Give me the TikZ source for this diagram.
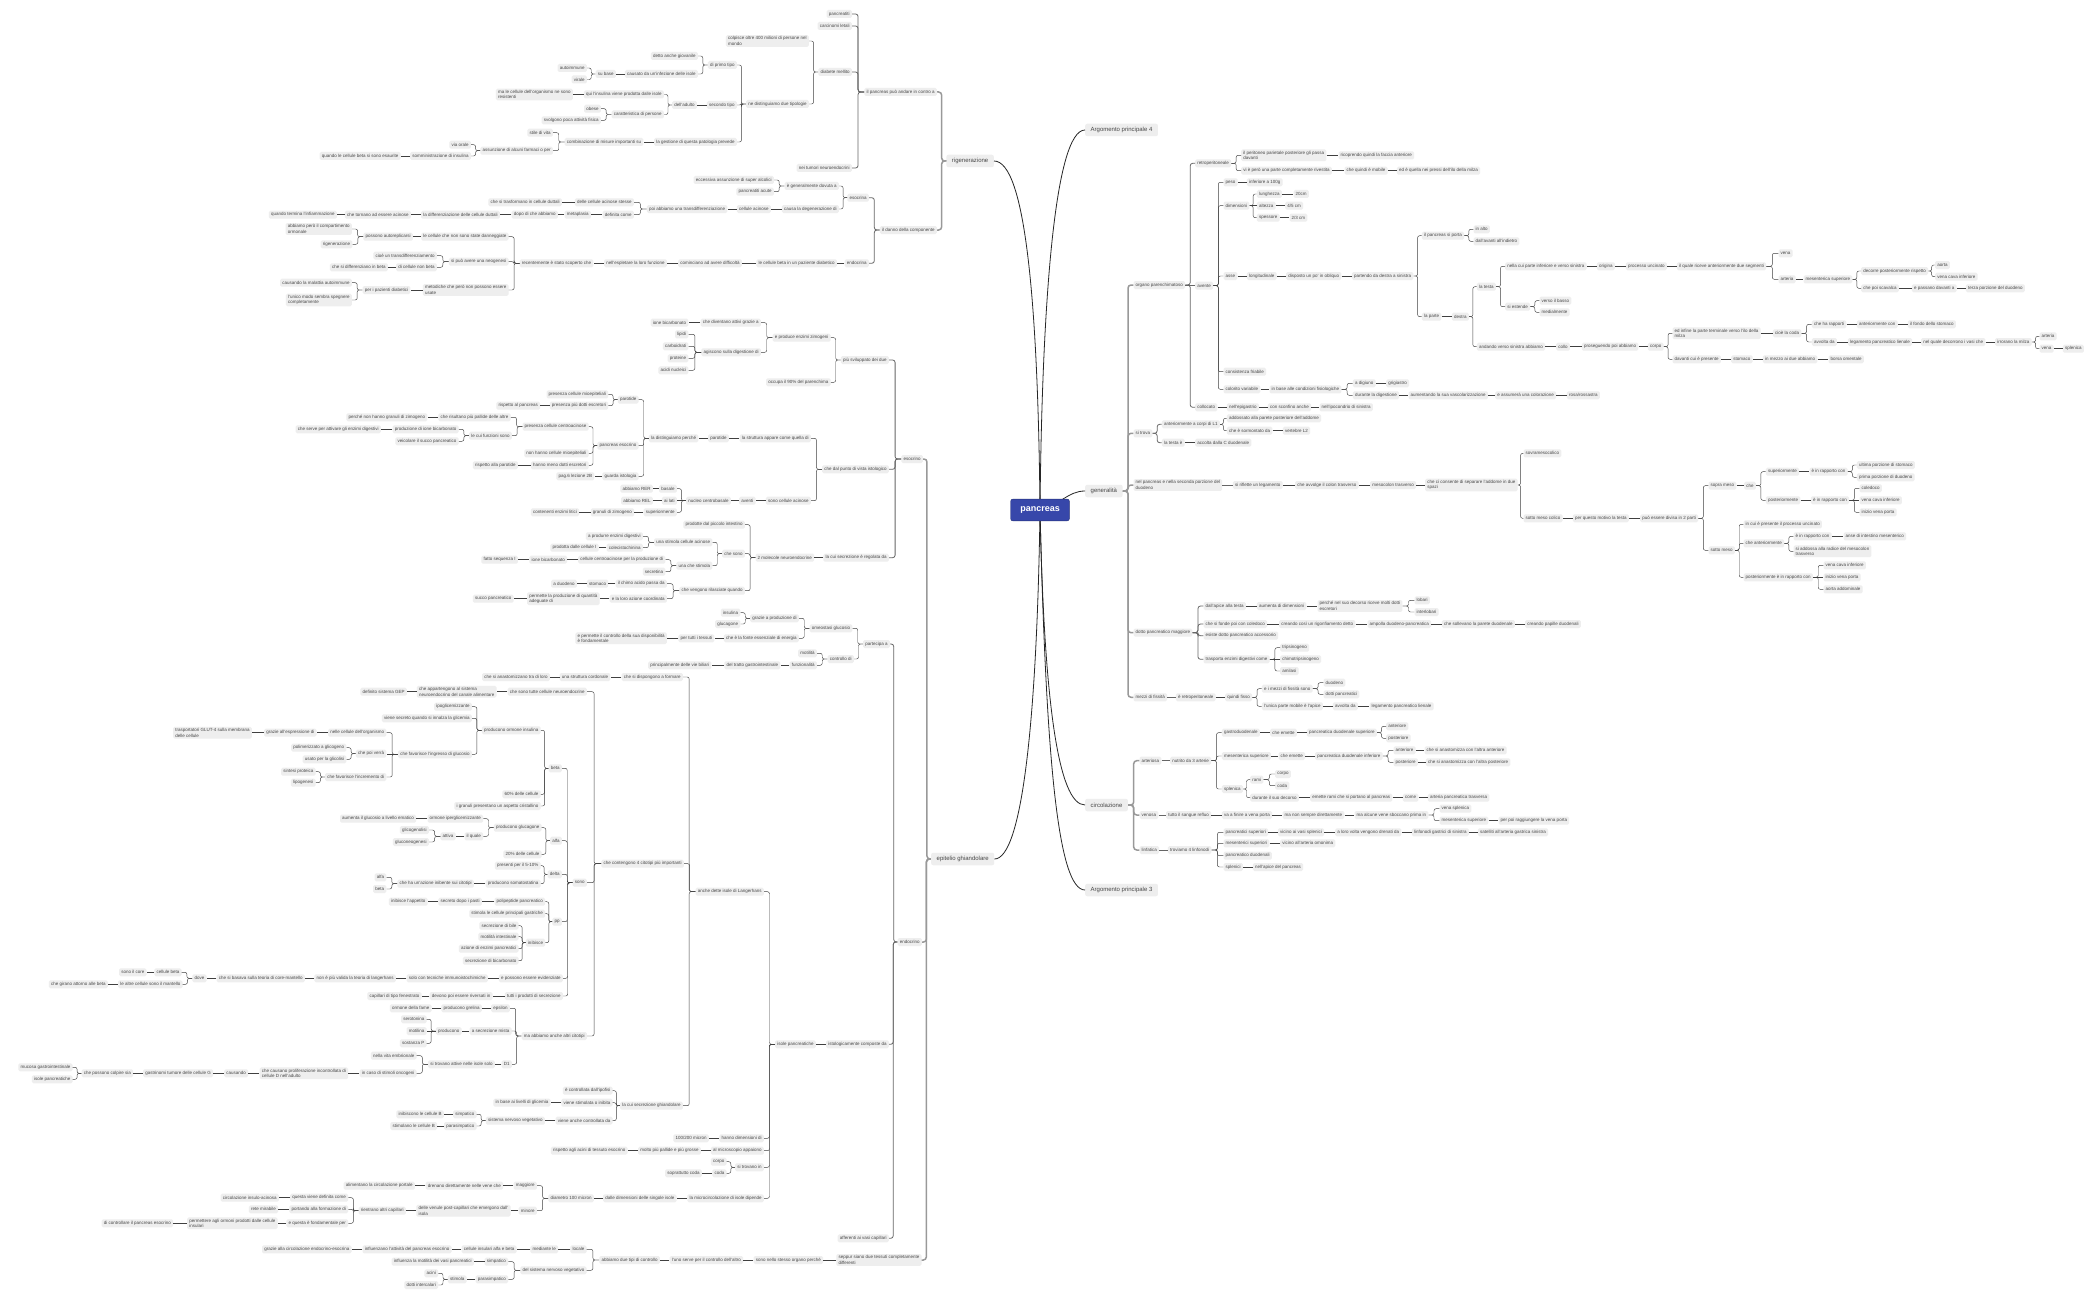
\documentclass[tikz,border=0pt]{standalone}
\usepackage{fontspec}
\setmainfont{Liberation Sans}
\usetikzlibrary{calc, positioning}
\definecolor{PanBlue}{RGB}{55,71,170}
\definecolor{LeafGrey}{RGB}{238,238,238}
\definecolor{InkGrey}{RGB}{70,70,70}
% child node on the left / right of its parent, with its connector
% (straight when both sit on one line, elbow otherwise)
\newcommand\kidL[6][wire]{\node[leaf, anchor=east] (#2) at (#4,#5) {#6};
  \expandafter\def\csname ky@#2\endcsname{#5}%
  \ifcsname ky@#3\endcsname\pgfmathtruncatemacro\flatlink{abs(\csname ky@#3\endcsname-#5)<1}\else\def\flatlink{0}\fi
  \ifnum\flatlink=1 \draw[#1] (#3.west) -- (#2.east |- #3.west);\else\draw[#1] (#3.west) to[elbow] (#2.east);\fi}
\newcommand\kidR[6][wire]{\node[leaf, anchor=west] (#2) at (#4,#5) {#6};
  \expandafter\def\csname ky@#2\endcsname{#5}%
  \ifcsname ky@#3\endcsname\pgfmathtruncatemacro\flatlink{abs(\csname ky@#3\endcsname-#5)<1}\else\def\flatlink{0}\fi
  \ifnum\flatlink=1 \draw[#1] (#3.east) -- (#2.west |- #3.east);\else\draw[#1] (#3.east) to[elbow] (#2.west);\fi}

\begin{document}
\begin{tikzpicture}[x=1pt, y=-1pt,
    leaf/.style={rectangle, fill=LeafGrey, rounded corners=1.5pt, inner xsep=2.2pt, inner ysep=1.5pt, minimum height=8pt, align=left, font=\fontsize{4.5}{5.4}\selectfont, text=InkGrey},
    topic/.style={rectangle, fill=LeafGrey, rounded corners=2pt, inner xsep=5.5pt, minimum height=12.5pt, font=\fontsize{6}{7}\selectfont, text=InkGrey},
    hub/.style={rectangle, draw=PanBlue!70!black, fill=PanBlue, rounded corners=2pt, minimum width=58.6pt, minimum height=21.7pt, font=\fontsize{9}{10}\selectfont\bfseries, text=white},
    wire/.style={draw=black!75, line width=0.45pt, rounded corners=2pt},
    wire2/.style={draw=black!60, line width=0.8pt, rounded corners=2.5pt},
    wire1/.style={draw=black!40, line width=1.5pt, rounded corners=3pt},
    mainwire/.style={draw=black!85, line width=0.8pt},
    elbow/.style={to path={(\tikztostart) -- ($(\tikztostart)!0.5!(\tikztotarget |- \tikztostart)$) |- (\tikztotarget)}}
  ]
  \fill[white] (0,0) rectangle (2100,1300);
  \useasboundingbox (0,0) rectangle (2100,1300);

  % main topics
  \node[topic, anchor=east] (rig) at (994,161) {rigenerazione};
  \node[topic, anchor=east] (epi) at (994.4,859) {epitelio ghiandolare};
  \node[topic, anchor=west] (arg4) at (1085,130) {Argomento principale 4};
  \node[topic, anchor=west] (gen) at (1085,491) {generalità};
  \node[topic, anchor=west] (circ) at (1085,805) {circolazione};
  \node[topic, anchor=west] (arg3) at (1085,890) {Argomento principale 3};

  \coordinate (pc) at (1040,510);
  \draw[mainwire] (pc) .. controls (1038,300) and (1025,161) .. (rig.east);
  \draw[mainwire] (pc) .. controls (1037,720) and (1022,859) .. (epi.east);
  \draw[mainwire] (pc) .. controls (1042,300) and (1055,130) .. (arg4.west);
  \draw[mainwire] (pc) .. controls (1060,505) and (1068,491) .. (gen.west);
  \draw[mainwire] (pc) .. controls (1044,700) and (1058,805) .. (circ.west);
  \draw[mainwire] (pc) .. controls (1046,760) and (1058,890) .. (arg3.west);
  \node[hub] (pan) at (pc) {pancreas};

  % rigenerazione
  \kidL[wire1]{R1}{rig}{937}{92}{il pancreas può andare in contro a}
  \kidL[wire1]{R2}{rig}{937}{230}{il danno della componente}
  \kidL[wire2]{R3}{R1}{852}{14}{pancreatiti}
  \kidL[wire2]{R4}{R1}{852}{26}{carcinomi letali}
  \kidL[wire2]{R5}{R1}{852}{72}{diabete mellito}
  \kidL[wire2]{R6}{R1}{852}{168}{nei tumori neuroendocrini}
  \kidL{R7}{R5}{809}{41}{colpisce oltre 400 milioni di persone nel\\mondo}
  \kidL{R8}{R5}{809}{104}{ne distinguiamo due tipologie}
  \kidL{R9}{R8}{737}{65}{di primo tipo}
  \kidL{R10}{R8}{737}{105}{secondo tipo}
  \kidL{R11}{R8}{737}{142}{la gestione di questa patologia prevede}
  \kidL{R12}{R9}{698}{56}{detto anche giovanile}
  \kidL{R13}{R9}{698}{74}{causato da un'infezione delle isole}
  \kidL{R14}{R13}{616}{74}{su base}
  \kidL{R15}{R14}{587}{68}{autoimmune}
  \kidL{R16}{R14}{587}{79.5}{virale}
  \kidL{R17}{R10}{697}{105}{dell'adulto}
  \kidL{R18}{R17}{664}{94.5}{qui l'insulina viene prodotta dalle isole}
  \kidL{R19}{R17}{664}{114.5}{caratteristica di persone}
  \kidL{R20}{R18}{573}{94.5}{ma le cellule dell'organismo ne sono\\resistenti}
  \kidL{R21}{R19}{601}{108.7}{obese}
  \kidL{R22}{R19}{601}{120.3}{svolgono poca attività fisica}
  \kidL{R23}{R11}{643.6}{142}{combinazione di misure importanti su}
  \kidL{R24}{R23}{553}{132.7}{stile di vita}
  \kidL{R25}{R23}{553}{150.7}{assunzione di alcuni farmaci o per}
  \kidL{R26}{R25}{471}{144.7}{via orale}
  \kidL{R27}{R25}{471}{156}{somministrazione di insulina}
  \kidL{R28}{R27}{400.7}{156}{quando le cellule beta si sono esaurite}
  \kidL[wire2]{R29}{R2}{869}{197.7}{esocrina}
  \kidL[wire2]{R30}{R2}{869}{263.3}{endocrina}
  \kidL{R31}{R29}{839}{186}{è generalmente dovuta a}
  \kidL{R32}{R29}{839}{209}{causa la degenerazione di}
  \kidL{R33}{R31}{774}{180}{eccessiva assunzione di super alcolici}
  \kidL{R34}{R31}{774}{191.7}{pancreatiti acute}
  \kidL{R35}{R32}{771}{209}{cellule acinose}
  \kidL{R36}{R35}{727.5}{209}{poi abbiamo una transdifferenziazione}
  \kidL{R37}{R36}{634}{202.3}{delle cellule acinose stesse}
  \kidL{R38}{R36}{634}{214.7}{definita come}
  \kidL{R39}{R37}{562}{202.3}{che si trasformano in cellule duttali}
  \kidL{R40}{R38}{591}{214.7}{metaplasia}
  \kidL{R41}{R40}{558}{214.7}{dopo di che abbiamo}
  \kidL{R42}{R41}{500}{214.7}{la differenziazione delle cellule duttali}
  \kidL{R43}{R42}{411}{214.7}{che tornano ad essere acinose}
  \kidL{R44}{R43}{337}{214.7}{quando termina l'infiammazione}
  \kidL{R45}{R30}{837}{263.3}{le cellule beta in un paziente diabetico}
  \kidL{R46}{R45}{742}{263.3}{cominciano ad avere difficoltà}
  \kidL{R47}{R46}{667}{263.3}{nell'espletare la loro funzione}
  \kidL{R48}{R47}{593.6}{263.3}{recentemente è stato scoperto che}
  \kidL{R49}{R48}{508.7}{236.7}{le cellule che non sono state danneggiate}
  \kidL{R50}{R48}{508.7}{261.7}{si può avere una neogenesi}
  \kidL{R51}{R48}{508.7}{290}{metodiche che però non possono essere\\usate}
  \kidL{R52}{R49}{413}{236.7}{possono autoreplicarsi}
  \kidL{R53}{R52}{352}{229}{abbiamo però il compartimento\\ormonale}
  \kidL{R54}{R52}{352.5}{244.3}{rigenerazione}
  \kidL{R55}{R50}{437}{255.7}{cioè un transdifferenziamento}
  \kidL{R56}{R50}{437}{267.3}{di cellule non beta}
  \kidL{R57}{R56}{388}{267.3}{che si differenziano in beta}
  \kidL{R58}{R51}{410.5}{290}{per i pazienti diabetici}
  \kidL{R59}{R58}{352}{282.7}{causando la malattia autoimmune}
  \kidL{R60}{R58}{352}{300}{l'unico modo sembra spegnere\\completamente}

  % epitelio ghiandolare: esocrino
  \kidL[wire1]{E1}{epi}{923}{459}{esocrino}
  \kidL[wire1]{N1}{epi}{922}{942}{endocrino}
  \kidL[wire1]{S1}{epi}{921.7}{1260}{seppur siano due tessuti completamente\\differenti}
  \kidL[wire2]{E2}{E1}{889}{360}{più sviluppato dei due}
  \kidL[wire2]{E3}{E1}{889}{469.3}{che dal punto di vista istologico}
  \kidL[wire2]{E4}{E1}{889}{557.7}{la cui secrezione è regolata da}
  \kidL{E5}{E2}{830.8}{337.7}{e produce enzimi zimogeni}
  \kidL{E6}{E2}{830.8}{382.3}{occupa il 90\% del parenchima}
  \kidL{E7}{E5}{761}{322.7}{che diventano attivi grazie a}
  \kidL{E8}{E7}{688.6}{322.7}{ione bicarbonato}
  \kidL{E9}{E5}{761}{352.3}{agiscono sulla digestione di}
  \kidL{E10}{E9}{688.6}{334.3}{lipidi}
  \kidL{E11}{E9}{688.6}{346.3}{carboidrati}
  \kidL{E12}{E9}{688.6}{358.3}{proteine}
  \kidL{E13}{E9}{688.6}{370.3}{acidi nucleici}
  \kidL{E14}{E3}{811}{438.3}{la struttura appare come quella di}
  \kidL{E15}{E3}{811}{500.7}{sono cellule acinose}
  \kidL{E16}{E14}{729}{438.3}{parotide}
  \kidL{E17}{E16}{698.6}{438.3}{la distinguiamo perché}
  \kidL{E18}{E17}{638.7}{399.7}{parotide}
  \kidL{E19}{E17}{638.7}{445.7}{pancreas esocrino}
  \kidL{E20}{E17}{638.7}{476.3}{guarda istologia}
  \kidL{E21}{E18}{608.4}{394.3}{presenza cellule mioepiteliali}
  \kidL{E22}{E18}{608.4}{405.7}{presenza più dotti escretori}
  \kidL{E23}{E22}{540.3}{405.7}{rispetto al pancreas}
  \kidL{E24}{E19}{588.9}{426.7}{presenza cellule centroacinose}
  \kidL{E25}{E19}{588.9}{453.3}{non hanno cellule mioepiteliali}
  \kidL{E26}{E19}{588.9}{465.3}{hanno meno dotti escretori}
  \kidL{E27}{E26}{518}{465.3}{rispetto alla parotide}
  \kidL{E28}{E24}{510.8}{417.3}{che risultano più pallide delle altre}
  \kidL{E29}{E28}{427.5}{417.3}{perché non hanno granuli di zimogeno}
  \kidL{E30}{E24}{512}{435.7}{le cui funzioni sono}
  \kidL{E31}{E30}{458.8}{429.3}{produzione di ione bicarbonato}
  \kidL{E32}{E31}{381}{429.3}{che serve per attivare gli enzimi digestivi}
  \kidL{E33}{E30}{458.8}{441.3}{veicolare il succo pancreatico}
  \kidL{E34}{E20}{594.5}{476.3}{pag.6 lezione 2B}
  \kidL{E35}{E15}{755.8}{500.7}{aventi}
  \kidL{E36}{E35}{731}{500.7}{nucleo centrobasale}
  \kidL{E37}{E36}{677}{488.7}{basale}
  \kidL{E38}{E37}{653}{488.7}{abbiamo RER}
  \kidL{E39}{E36}{677}{500.7}{ai lati}
  \kidL{E40}{E39}{653}{500.7}{abbiamo REL}
  \kidL{E41}{E36}{677}{512.3}{superiormente}
  \kidL{E42}{E41}{634.4}{512.3}{granuli di zimogeno}
  \kidL{E43}{E42}{579.3}{512.3}{contenenti enzimi litici}
  \kidL{E44}{E4}{814.4}{557.7}{2 molecole neuroendocrine}
  \kidL{E45}{E44}{745}{524.7}{prodotte dal piccolo intestino}
  \kidL{E46}{E44}{745}{553.7}{che sono}
  \kidL{E47}{E44}{745}{590.7}{che vengono rilasciate quando}
  \kidL{E48}{E46}{712.5}{542.3}{una stimola cellule acinose}
  \kidL{E49}{E46}{712.5}{565.7}{una che stimola}
  \kidL{E50}{E48}{643}{536.3}{a produrre enzimi digestivi}
  \kidL{E51}{E48}{643}{547.7}{colecistochinina}
  \kidL{E52}{E51}{598.8}{547.7}{prodotta dalle cellule I}
  \kidL{E53}{E49}{665.6}{559.7}{cellule centroacinose per la produzione di}
  \kidL{E54}{E53}{567.2}{559.7}{ione bicarbonato}
  \kidL{E55}{E54}{518}{559.7}{fatto sequenza I}
  \kidL{E56}{E49}{665.6}{571.7}{secretina}
  \kidL{E57}{E47}{667}{583.7}{il chimo acido passa da}
  \kidL{E58}{E57}{608.4}{583.7}{stomaco}
  \kidL{E59}{E58}{577}{583.7}{a duodeno}
  \kidL{E60}{E47}{667}{598.7}{e la loro azione coordinata}
  \kidL{E61}{E60}{599.7}{598.7}{permette la produzione di quantità\\adeguate di}
  \kidL{E62}{E61}{513.8}{598.7}{succo pancreatico}

  % epitelio ghiandolare: endocrino
  \kidL[wire2]{N2}{N1}{890}{644}{partecipa a}
  \kidL[wire2]{N3}{N1}{889}{1044.3}{istologicamente composte da}
  \kidL[wire2]{N4}{N1}{889}{1238.3}{afferenti ai vasi capillari}
  \kidL{N5}{N2}{852.5}{628.3}{omeostasi glucosio}
  \kidL{N6}{N2}{854}{659}{controllo di}
  \kidL{N7}{N5}{799}{618.3}{grazie a produzione di}
  \kidL{N8}{N5}{799}{638.3}{che è la fonte essenziale di energia}
  \kidL{N9}{N7}{740.6}{612.7}{insulina}
  \kidL{N10}{N7}{740.6}{624}{glucagone}
  \kidL{N11}{N8}{714.6}{638.3}{per tutti i tessuti}
  \kidL{N12}{N11}{667}{638.3}{e permette il controllo della sua disponibilità\\è fondamentale}
  \kidL{N13}{N6}{817}{653.3}{motilità}
  \kidL{N14}{N6}{817}{665.3}{funzionalità}
  \kidL{N15}{N14}{780.5}{665.3}{del tratto gastrointestinale}
  \kidL{N16}{N15}{711.6}{665.3}{principalmente delle vie biliari}
  \kidL{N17}{N3}{816}{1044.3}{isole pancreatiche}
  \kidL{N18}{N17}{764}{891.7}{anche dette isole di Langerhans}
  \kidL{N19}{N17}{764}{1138.3}{hanno dimensioni di}
  \kidL{N20}{N17}{764}{1150.7}{al microscopio appaiono}
  \kidL{N21}{N17}{764}{1167.3}{si trovano in}
  \kidL{N22}{N17}{764}{1198.3}{la microcircolazione di isole dipende}
  \kidL{N23}{N19}{709}{1138.3}{100/200 micron}
  \kidL{N24}{N20}{701}{1150.7}{molto più pallide e più grosse}
  \kidL{N25}{N24}{627.7}{1150.7}{rispetto agli acini di tessuto esocrino}
  \kidL{N26}{N21}{726.7}{1161.7}{corpo}
  \kidL{N27}{N21}{726.7}{1173.3}{coda}
  \kidL{N28}{N27}{702}{1173.3}{soprattutto coda}
  \kidL{N29}{N22}{676.7}{1198.3}{dalle dimensioni delle singole isole}
  \kidL{N30}{N29}{594}{1198.3}{diametro 100 micron}
  \kidL{N31}{N30}{537}{1185.7}{maggiore}
  \kidL{N32}{N31}{503.3}{1185.7}{drenano direttamente nelle vene che}
  \kidL{N33}{N32}{415}{1185.7}{alimentano la circolazione portale}
  \kidL{N34}{N30}{537}{1210.7}{minore}
  \kidL{N35}{N34}{510.7}{1210.7}{delle venule post-capillari che emergono dall'\\isola}
  \kidL{N36}{N35}{406}{1210.7}{rientrano altri capillari}
  \kidL{N37}{N36}{348.3}{1197.7}{questa viene definita come}
  \kidL{N38}{N37}{279}{1197.7}{circolazione insulo-acinosa}
  \kidL{N39}{N36}{348.3}{1209.3}{portando alla formazione di}
  \kidL{N40}{N39}{278.3}{1209.3}{rete mirabile}
  \kidL{N41}{N36}{348.3}{1223.3}{e questa è fondamentale per}
  \kidL{N42}{N41}{277.7}{1223.3}{permettere agli ormoni prodotti dalle cellule\\insulari}
  \kidL{N43}{N42}{173.3}{1223.3}{di controllare il pancreas esocrino}
  \kidL{N44}{N18}{683}{677}{che si dispongono a formare}
  \kidL{N45}{N18}{684}{863.7}{che contengono 4 citotipi più importanti}
  \kidL{N46}{N18}{683}{1105.7}{la cui secrezione ghiandolare}
  \kidL{N47}{N44}{610.6}{677}{una struttura cordonale}
  \kidL{N48}{N47}{550}{677}{che si anastomizzano tra di loro}
  \kidL{N49}{N45}{587}{691.7}{che sono tutte cellule neuroendocrine}
  \kidL{N50}{N45}{587}{882.7}{sono}
  \kidL{N51}{N45}{587}{1036}{ma abbiamo anche altri citotipi}
  \kidL{N52}{N49}{496.7}{691.7}{che appartengono al sistema\\neuroendocrino del canale alimentare}
  \kidL{N53}{N52}{407}{691.7}{definito sistema GEP}
  \kidL{N54}{N50}{562}{768.3}{beta}
  \kidL{N55}{N50}{562}{840.7}{alfa}
  \kidL{N56}{N50}{562}{874.3}{delta}
  \kidL{N57}{N50}{562}{921.7}{pp}
  \kidL{N58}{N50}{563}{978.3}{e possono essere evidenziate}
  \kidL{N59}{N50}{563}{996}{tutti i prodotti di secrezione}
  \kidL{N60}{N54}{540.8}{730.3}{producono ormone insulina}
  \kidL{N61}{N54}{540.8}{794.3}{60\% delle cellule}
  \kidL{N62}{N54}{540.8}{806}{i granuli presentano un aspetto cristallino}
  \kidL{N63}{N60}{472}{706.7}{ipoglicemizzante}
  \kidL{N64}{N60}{472}{718.3}{viene secreto quando si innalza la glicemia}
  \kidL{N65}{N60}{472}{754.3}{che favorisce l'ingresso di glucosio}
  \kidL{N66}{N65}{386.5}{732.7}{nelle cellule dell'organismo}
  \kidL{N67}{N66}{316.7}{732.7}{grazie all'espressione di}
  \kidL{N67b}{N67}{252}{732.7}{trasportatori GLUT-4 sulla membrana\\delle cellule}
  \kidL{N68}{N65}{386.5}{753.7}{che poi verrà}
  \kidL{N69}{N65}{386.5}{777}{che favorisce l'incremento di}
  \kidL{N70}{N68}{346.6}{747.7}{polimerizzato a glicogeno}
  \kidL{N71}{N68}{346.6}{759.3}{usato per la glicolisi}
  \kidL{N72}{N69}{315.8}{771.7}{sintesi proteica}
  \kidL{N73}{N69}{315.8}{782.7}{lipogenesi}
  \kidL{N74}{N55}{541.7}{827.7}{producono glucagone}
  \kidL{N75}{N55}{541.7}{854.3}{20\% delle cellule}
  \kidL{N76}{N74}{483.4}{818.7}{ormone iperglicemizzante}
  \kidL{N77}{N76}{416.4}{818.7}{aumenta il glucosio a livello ematico}
  \kidL{N78}{N74}{483.4}{836.3}{il quale}
  \kidL{N79}{N78}{455.8}{836.3}{attiva}
  \kidL{N80}{N79}{429}{830}{glicogenolisi}
  \kidL{N81}{N79}{429}{842}{gluconeogenesi}
  \kidL{N82}{N56}{540.8}{865.7}{presenti per il 5-10\%}
  \kidL{N83}{N56}{540.8}{883.7}{producono somatostatina}
  \kidL{N84}{N83}{474}{883.7}{che ha un'azione inibente sui citotipi}
  \kidL{N85}{N84}{386.5}{877.3}{alfa}
  \kidL{N86}{N84}{386.5}{889}{beta}
  \kidL{N87}{N57}{545.4}{901.7}{polipeptide pancreatico}
  \kidL{N88}{N87}{482}{901.7}{secreto dopo i pasti}
  \kidL{N89}{N88}{427.8}{901.7}{inibisce l'appetito}
  \kidL{N90}{N57}{545.4}{913.7}{stimola le cellule principali gastriche}
  \kidL{N91}{N57}{545.4}{942.7}{inibisce}
  \kidL{N92}{N91}{518.7}{925.7}{secrezione di bile}
  \kidL{N93}{N91}{518.7}{936.7}{motilità intestinale}
  \kidL{N94}{N91}{518.7}{948.7}{azione di enzimi pancreatici}
  \kidL{N95}{N91}{518.7}{960.7}{secrezione di bicarbonato}
  \kidL{N96}{N58}{488}{978.3}{solo con tecniche immunoistochimiche}
  \kidL{N97}{N96}{396}{978.3}{non è più valida la teoria di langerhans}
  \kidL{N98}{N97}{305}{978.3}{che si basava sulla teoria di core-mantello}
  \kidL{N99}{N98}{206.7}{978.3}{dove}
  \kidL{N100}{N99}{181.7}{972.3}{cellule beta}
  \kidL{N101}{N100}{146.7}{972.3}{sono il core}
  \kidL{N102}{N99}{182.7}{984.3}{le altre cellule sono il mantello}
  \kidL{N103}{N102}{108}{984.3}{che girano attorno alle beta}
  \kidL{N104}{N59}{492.7}{996}{devono poi essere riversati in}
  \kidL{N105}{N104}{421.7}{996}{capillari di tipo fenestrato}
  \kidL{N106}{N51}{510}{1008.3}{epsilon}
  \kidL{N107}{N106}{482}{1008.3}{producono grelina}
  \kidL{N108}{N107}{431.7}{1008.3}{ormone della fame}
  \kidL{N109}{N51}{511.7}{1031}{a secrezione mista}
  \kidL{N110}{N109}{461.7}{1031}{producono}
  \kidL{N111}{N110}{426.7}{1019.3}{serotonina}
  \kidL{N112}{N110}{426.7}{1031}{motilina}
  \kidL{N113}{N110}{426.7}{1043.3}{sostanza P}
  \kidL{N114}{N51}{512}{1064.3}{D1}
  \kidL{N115}{N114}{495}{1064.3}{si trovano attive nelle isole solo}
  \kidL{N116}{N115}{416.7}{1055.7}{nella vita embrionale}
  \kidL{N117}{N115}{416.7}{1073.3}{in caso di stimoli oncogeni}
  \kidL{N118}{N117}{348.3}{1073.3}{che causano proliferazione incontrollata di\\cellule D nell'adulto}
  \kidL{N119}{N118}{248.3}{1073.3}{causando}
  \kidL{N120}{N119}{213.3}{1073.3}{gastrinomi tumore delle cellule G}
  \kidL{N121}{N120}{133.3}{1073.3}{che possono colpire sia}
  \kidL{N122}{N121}{72.7}{1067.3}{mucosa gastrointestinale}
  \kidL{N123}{N121}{72.7}{1079.3}{isole pancreatiche}
  \kidL{N124}{N46}{612.7}{1090.7}{è controllata dall'ipofisi}
  \kidL{N125}{N46}{612.7}{1102.7}{viene stimolata o inibita}
  \kidL{N126}{N125}{550.7}{1102.7}{in base ai livelli di glicemia}
  \kidL{N127}{N46}{612.7}{1120.7}{viene anche controllata da}
  \kidL{N128}{N127}{545}{1120.7}{sistema nervoso vegetativo}
  \kidL{N129}{N128}{476.7}{1114.3}{simpatico}
  \kidL{N130}{N129}{444}{1114.3}{inibiscono le cellule B}
  \kidL{N131}{N128}{476.7}{1126}{parasimpatico}
  \kidL{N132}{N131}{437.3}{1126}{stimolano le cellule B}
  \kidL{S2}{S1}{823.3}{1260}{sono nello stesso organo perché}
  \kidL{S3}{S2}{743.3}{1260}{l'uno serve per il controllo dell'altro}
  \kidL{S4}{S3}{660}{1260}{abbiamo due tipi di controllo}
  \kidL{S5}{S4}{586.7}{1249.3}{locale}
  \kidL{S6}{S5}{558.3}{1249.3}{mediante le}
  \kidL{S7}{S6}{516.7}{1249.3}{cellule insulari alfa e beta}
  \kidL{S8}{S7}{451.7}{1249.3}{influenzano l'attività del pancreas esocrino}
  \kidL{S9}{S8}{351.7}{1249.3}{grazie alla circolazione endocrino-esocrina}
  \kidL{S10}{S4}{586.7}{1270.3}{del sistema nervoso vegetativo}
  \kidL{S11}{S10}{508.3}{1261.7}{simpatico}
  \kidL{S12}{S11}{474}{1261.7}{influenza la motilità dei vasi pancreatici}
  \kidL{S13}{S10}{508.3}{1279.3}{parasimpatico}
  \kidL{S14}{S13}{466.7}{1279.3}{stimola}
  \kidL{S15}{S14}{438.3}{1273.3}{acini}
  \kidL{S16}{S14}{438.3}{1285}{dotti intercalari}

  % generalità
  \kidR[wire1]{G1}{gen}{1133.3}{285}{organo parenchimatoso}
  \kidR[wire1]{G2}{gen}{1133.3}{433.3}{si trova}
  \kidR[wire1]{G3}{gen}{1133.3}{485}{nel pancreas e nella seconda porzione del\\duodeno}
  \kidR[wire1]{G4}{gen}{1133.3}{632.7}{dotto pancreatico maggiore}
  \kidR[wire1]{G5}{gen}{1133.3}{697.3}{mezzi di fissità}
  \kidR[wire2]{G6}{G1}{1195}{163.3}{retroperitoneale}
  \kidR[wire2]{G7}{G1}{1195}{285.7}{avente}
  \kidR[wire2]{G8}{G1}{1195}{407.3}{collocato}
  \kidR{G9}{G6}{1241}{155.3}{il peritoneo parietale posteriore gli passa\\davanti}
  \kidR{G10}{G9}{1338.3}{155.3}{ricoprendo quindi la faccia anteriore}
  \kidR{G11}{G6}{1241}{170.7}{vi è però una parte completamente rivestita}
  \kidR{G12}{G11}{1344.3}{170.7}{che quindi è mobile}
  \kidR{G13}{G12}{1396.7}{170.7}{ed è quella nei pressi dell'ilo della milza}
  \kidR{G14}{G7}{1223.3}{182.3}{peso}
  \kidR{G15}{G14}{1246.7}{182.3}{inferiore a 100g}
  \kidR{G16}{G7}{1223.3}{205.7}{dimensioni}
  \kidR{G17}{G16}{1256.7}{194}{lunghezza}
  \kidR{G18}{G17}{1293.3}{194}{20cm}
  \kidR{G19}{G16}{1256.7}{205.7}{altezza}
  \kidR{G20}{G19}{1285}{205.7}{4/5 cm}
  \kidR{G21}{G16}{1256.7}{217.7}{spessore}
  \kidR{G22}{G21}{1289.3}{217.7}{2/3 cm}
  \kidR{G23}{G7}{1223.3}{276}{asse}
  \kidR{G24}{G23}{1246.7}{276}{longitudinale}
  \kidR{G25}{G24}{1286}{276}{disposto un po' in obliquo}
  \kidR{G26}{G25}{1351.7}{276}{partendo da destra a sinistra}
  \kidR{G27}{G26}{1421.7}{235.7}{il pancreas si porta}
  \kidR{G28}{G27}{1473.3}{229.3}{in alto}
  \kidR{G29}{G27}{1473.3}{241.3}{dall'avanti all'indietro}
  \kidR{G30}{G26}{1421.7}{316.7}{la parte}
  \kidR{G31}{G30}{1451.7}{316.7}{destra}
  \kidR{G32}{G31}{1476.7}{286.7}{la testa}
  \kidR{G33}{G32}{1505}{266.3}{nella cui parte inferiore e verso sinistra}
  \kidR{G34}{G33}{1596.7}{266.3}{origina}
  \kidR{G35}{G34}{1625.7}{266.3}{processo uncinato}
  \kidR{G36}{G35}{1676.7}{266.3}{il quale riceve anteriormente due segmenti}
  \kidR{G37}{G36}{1778.3}{253.3}{vena}
  \kidR{G38}{G36}{1778.3}{279.3}{arteria}
  \kidR{G39}{G38}{1803.3}{279.3}{mesenterica superiore}
  \kidR{G40}{G39}{1861}{271}{decorre posteriormente rispetto}
  \kidR{G41}{G40}{1935}{265}{aorta}
  \kidR{G42}{G40}{1935}{276.7}{vena cava inferiore}
  \kidR{G43}{G39}{1861}{288.3}{che poi scavalca}
  \kidR{G44}{G43}{1911.7}{288.3}{e passano davanti a}
  \kidR{G45}{G44}{1965.7}{288.3}{terza porzione del duodeno}
  \kidR{G46}{G32}{1505}{306.7}{si estende}
  \kidR{G47}{G46}{1539.3}{300.7}{verso il basso}
  \kidR{G48}{G46}{1539.3}{312.3}{medialmente}
  \kidR{G49}{G31}{1476.7}{346.7}{andando verso sinistra abbiamo}
  \kidR{G50}{G49}{1556}{346.7}{collo}
  \kidR{G51}{G50}{1581.7}{346.7}{proseguendo poi abbiamo}
  \kidR{G52}{G51}{1647.7}{346.7}{corpo}
  \kidR{G53}{G52}{1672.3}{333.3}{ed infine la parte terminale verso l'ilo della\\milza}
  \kidR{G54}{G53}{1772.7}{333.3}{cioè la coda}
  \kidR{G55}{G54}{1811.7}{324.3}{che ha rapporti}
  \kidR{G56}{G55}{1856.7}{324.3}{anteriormente con}
  \kidR{G57}{G56}{1907.7}{324.3}{il fondo dello stomaco}
  \kidR{G58}{G54}{1811.7}{342}{avvolta da}
  \kidR{G59}{G58}{1847.7}{342}{legamento pancreatico lienale}
  \kidR{G60}{G59}{1921}{342}{nel quale decorrono i vasi che}
  \kidR{G61}{G60}{1995}{342}{irrorano la milza}
  \kidR{G62}{G61}{2039.3}{336.3}{arteria}
  \kidR{G63}{G61}{2039.3}{348.7}{vena}
  \kidR{G64}{G63}{2062.7}{348.7}{splenica}
  \kidR{G65}{G52}{1672.3}{359.3}{davanti cui è presente}
  \kidR{G66}{G65}{1731}{359.3}{stomaco}
  \kidR{G67}{G66}{1762.7}{359.3}{in mezzo ai due abbiamo}
  \kidR{G68}{G67}{1828.3}{359.3}{borsa omentale}
  \kidR{G69}{G7}{1223.3}{371.7}{consistenza friabile}
  \kidR{G70}{G7}{1223.3}{389.3}{colorito variabile}
  \kidR{G71}{G70}{1269.3}{389.3}{in base alle condizioni fisiologiche}
  \kidR{G72}{G71}{1352.7}{383.3}{a digiuno}
  \kidR{G73}{G72}{1386}{383.3}{grigiastro}
  \kidR{G74}{G71}{1352.7}{395.3}{durante la digestione}
  \kidR{G75}{G74}{1408.3}{395.3}{aumentando la sua vascolarizzazione}
  \kidR{G76}{G75}{1495}{395.3}{e assumerà una colorazione}
  \kidR{G77}{G76}{1566.7}{395.3}{rosa/rossastra}
  \kidR{G78}{G8}{1226.7}{407.3}{nell'epigastrio}
  \kidR{G79}{G78}{1267.7}{407.3}{con sconfino anche}
  \kidR{G80}{G79}{1319.3}{407.3}{nell'ipocondrio di sinistra}
  \kidR[wire2]{G81}{G2}{1161.7}{424.3}{anteriormente a corpi di L1}
  \kidR{G82}{G81}{1226.7}{418.3}{addossato alla parete posteriore dell'addome}
  \kidR{G83}{G81}{1226.7}{430.7}{che è sormontato da}
  \kidR{G84}{G83}{1282.7}{430.7}{vertebre L2}
  \kidR[wire2]{G85}{G2}{1161.7}{442.7}{la testa è}
  \kidR{G86}{G85}{1195}{442.7}{accolta dalla C duodenale}
  \kidR[wire2]{G87}{G3}{1232.7}{485}{si riflette un legamento}
  \kidR{G88}{G87}{1295}{485}{che avvolge il colon trasverso}
  \kidR{G89}{G88}{1370}{485}{mesocolon trasverso}
  \kidR{G90}{G89}{1425}{485}{che ci consente di separare l'addome in due\\spazi}
  \kidR{G91}{G90}{1523.3}{453.3}{sovramesocolico}
  \kidR{G92}{G90}{1523.3}{518.3}{sotto meso colico}
  \kidR{G93}{G92}{1572.7}{518.3}{per questo motivo la testa}
  \kidR{G94}{G93}{1640}{518.3}{può essere divisa in 2 parti}
  \kidR{G95}{G94}{1708.3}{485.7}{sopra meso}
  \kidR{G96}{G95}{1744}{485.7}{che}
  \kidR{G97}{G96}{1765.7}{471.7}{superiormente}
  \kidR{G98}{G97}{1809.3}{471.7}{è in rapporto con}
  \kidR{G99}{G98}{1856.7}{465}{ultima porzione di stomaco}
  \kidR{G100}{G98}{1856.7}{477.3}{prima porzione di duodeno}
  \kidR{G101}{G96}{1765.7}{500.3}{posteriormente}
  \kidR{G102}{G101}{1810.7}{500.3}{è in rapporto con}
  \kidR{G103}{G102}{1859.3}{488.3}{coledoco}
  \kidR{G104}{G102}{1859.3}{500.3}{vena cava inferiore}
  \kidR{G105}{G102}{1859.3}{512.3}{inizio vena porta}
  \kidR{G106}{G94}{1708.3}{550.3}{sotto meso}
  \kidR{G107}{G106}{1743.3}{524.3}{in cui è presente il processo uncinato}
  \kidR{G108}{G106}{1743.3}{543.3}{che anteriormente}
  \kidR{G109}{G108}{1793.3}{536.3}{è in rapporto con}
  \kidR{G110}{G109}{1843.3}{536.3}{anse di intestino mesenterico}
  \kidR{G111}{G108}{1793.3}{551.3}{si addossa alla radice del mesocolon\\trasverso}
  \kidR{G112}{G106}{1743.3}{577.3}{posteriormente è in rapporto con}
  \kidR{G113}{G112}{1823.3}{565.3}{vena cava inferiore}
  \kidR{G114}{G112}{1823.3}{577.3}{inizio vena porta}
  \kidR{G115}{G112}{1823.3}{589.3}{aorta addominale}
  \kidR[wire2]{G116}{G4}{1203.3}{606}{dall'apice alla testa}
  \kidR{G117}{G116}{1256.7}{606}{aumenta di dimensioni}
  \kidR{G118}{G117}{1317.3}{606}{perché nel suo decorso riceve molti dotti\\escretori}
  \kidR{G119}{G118}{1414.3}{600.3}{lobari}
  \kidR{G120}{G118}{1414.3}{612}{interlobari}
  \kidR[wire2]{G121}{G4}{1203.3}{624}{che si fonde poi con coledoco}
  \kidR{G122}{G121}{1279}{624}{creando così un rigonfiamento detto}
  \kidR{G123}{G122}{1367.3}{624}{ampolla duodeno-pancreatica}
  \kidR{G124}{G123}{1441.7}{624}{che sollevano la parete duodenale}
  \kidR{G125}{G124}{1525}{624}{creando papille duodenali}
  \kidR[wire2]{G126}{G4}{1203.3}{635.7}{esiste dotto pancreatico accessorio}
  \kidR[wire2]{G127}{G4}{1203.3}{659.3}{trasporta enzimi digestivi come}
  \kidR{G128}{G127}{1280}{647.7}{tripsinogeno}
  \kidR{G129}{G127}{1280}{659.3}{chimotripsinogeno}
  \kidR{G130}{G127}{1280}{671}{amilasi}
  \kidR[wire2]{G131}{G5}{1175.7}{697.3}{è retroperitoneale}
  \kidR{G132}{G131}{1225}{697.3}{quindi fisso}
  \kidR{G133}{G132}{1261.7}{688.7}{e i mezzi di fissità sono}
  \kidR{G134}{G133}{1323.3}{682.7}{duodeno}
  \kidR{G135}{G133}{1323.3}{694.3}{dotti pancreatici}
  \kidR{G136}{G132}{1261.7}{706.3}{l'unica parte mobile è l'apice}
  \kidR{G137}{G136}{1332.7}{706.3}{avvolta da}
  \kidR{G138}{G137}{1369.3}{706.3}{legamento pancreatico lienale}

  % circolazione
  \kidR[wire1]{C1}{circ}{1139.3}{760.7}{arteriosa}
  \kidR[wire1]{C2}{circ}{1139.3}{815}{venosa}
  \kidR[wire1]{C3}{circ}{1139.3}{850}{linfatica}
  \kidR[wire2]{C4}{C1}{1170}{760.7}{nutrito da 3 arterie}
  \kidR{C5}{C4}{1221.7}{732.7}{gastroduodenale}
  \kidR{C6}{C5}{1270}{732.7}{che emette}
  \kidR{C7}{C6}{1306.7}{732.7}{pancreatica duodenale superiore}
  \kidR{C8}{C7}{1386}{726.3}{anteriore}
  \kidR{C9}{C7}{1386}{738.3}{posteriore}
  \kidR{C10}{C4}{1221.7}{756}{mesenterica superiore}
  \kidR{C11}{C10}{1278.3}{756}{che emette}
  \kidR{C12}{C11}{1315}{756}{pancreatica duodenale inferiore}
  \kidR{C13}{C12}{1393.3}{750.3}{anteriore}
  \kidR{C14}{C13}{1424.3}{750.3}{che si anastomizza con l'altra anteriore}
  \kidR{C15}{C12}{1393.3}{762.3}{posteriore}
  \kidR{C16}{C15}{1425.7}{762.3}{che si anastomizza con l'altra posteriore}
  \kidR{C17}{C4}{1221.7}{789}{splenica}
  \kidR{C18}{C17}{1250}{779.7}{rami}
  \kidR{C19}{C18}{1275}{774}{corpo}
  \kidR{C20}{C18}{1275}{785.7}{coda}
  \kidR{C21}{C17}{1250}{797.7}{durante il suo decorso}
  \kidR{C22}{C21}{1310}{797.7}{emette rami che si portano al pancreas}
  \kidR{C23}{C22}{1402.7}{797.7}{come}
  \kidR{C24}{C23}{1427.7}{797.7}{arteria pancreatica trasversa}
  \kidR[wire2]{C25}{C2}{1166}{815}{tutto il sangue refluo}
  \kidR{C26}{C25}{1221.7}{815}{va a finire a vena porta}
  \kidR{C27}{C26}{1282.3}{815}{ma non sempre direttamente}
  \kidR{C28}{C27}{1354.3}{815}{ma alcune vene sboccano prima in}
  \kidR{C29}{C28}{1439.3}{808.7}{vena splenica}
  \kidR{C30}{C28}{1439.3}{820.7}{mesenterica superiore}
  \kidR{C31}{C30}{1498.3}{820.7}{per poi raggiungere la vena porta}
  \kidR[wire2]{C32}{C3}{1167.7}{850}{troviamo 4 linfonodi}
  \kidR{C33}{C32}{1223.3}{832.3}{pancreatici superiori}
  \kidR{C34}{C33}{1277.7}{832.3}{vicino ai vasi splenici}
  \kidR{C35}{C34}{1335}{832.3}{a loro volta vengono drenati da}
  \kidR{C36}{C35}{1411.7}{832.3}{linfonodi gastrici di sinistra}
  \kidR{C37}{C36}{1477.7}{832.3}{satelliti all'arteria gastrica sinistra}
  \kidR{C38}{C32}{1223.3}{843.3}{mesenterici superiori}
  \kidR{C39}{C38}{1280}{843.3}{vicino all'arteria omonima}
  \kidR{C40}{C32}{1223.3}{855.7}{pancreatico duodenali}
  \kidR{C41}{C32}{1223.3}{867}{splenici}
  \kidR{C42}{C41}{1252.7}{867}{nell'apice del pancreas}
\end{tikzpicture}
\end{document}
